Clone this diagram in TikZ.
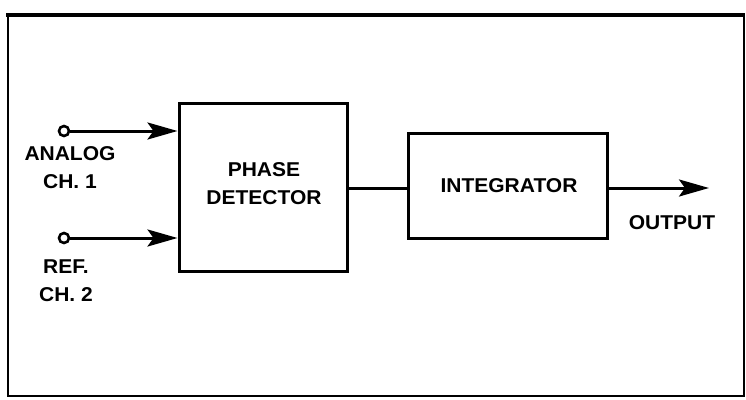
\documentclass[tikz,border=0pt]{standalone}
\usepackage{fontspec}
\setmainfont{Liberation Sans}[FakeStretch=1.05]
\usetikzlibrary{arrows.meta}
\begin{document}
\begin{tikzpicture}[x=1pt,y=-1pt,
  blk/.style={draw,line width=3pt,inner sep=0pt},
  lbl/.style={font=\fontsize{20}{28}\selectfont\bfseries,align=center,inner sep=0pt},
  wire/.style={line width=3pt},
  arr/.style={line width=3pt,-{Stealth[length=30pt,width=17pt,inset=6pt]}},
  term/.style={circle,draw,line width=2.6pt,minimum size=10pt,inner sep=0pt,fill=white}]
\useasboundingbox (0,0) rectangle (746,399);
% frame
\draw[line width=2.6pt] (8,396) -- (8,15) ;
\draw[line width=4.5pt] (6,15) -- (745,15);
\draw[line width=2.4pt] (744,15) -- (744,396);
\draw[line width=2.8pt] (7,396) -- (745,396);
% blocks
\node[blk,minimum width=168pt,minimum height=168pt] (pd) at (263,187) {};
\node[lbl] (pdt) at (264,184) {PHASE\\DETECTOR};
\node[blk,minimum width=199pt,minimum height=105pt] (int) at (507.5,185.5) {};
\node[lbl] (intt) at (509,186) {INTEGRATOR};
% terminals
\node[term] (t1) at (64,131) {};
\node[term] (t2) at (64,238) {};
\node[lbl] (l1) at (70,168) {ANALOG\\CH. 1};
\node[lbl] (l2) at (66,281) {REF.\\CH. 2};
\coordinate (out) at (709,188);
\node[lbl] (lo) at (672,223) {OUTPUT};
% connectors
\draw[arr] (t1.east) -- (t1.east -| pd.west);
\draw[arr] (t2.east) -- (t2.east -| pd.west);
\draw[wire] (pd.east |- 0,188) -- (int.west |- 0,188);
\draw[arr] (int.east |- 0,188) -- (out);
\end{tikzpicture}
\end{document}
